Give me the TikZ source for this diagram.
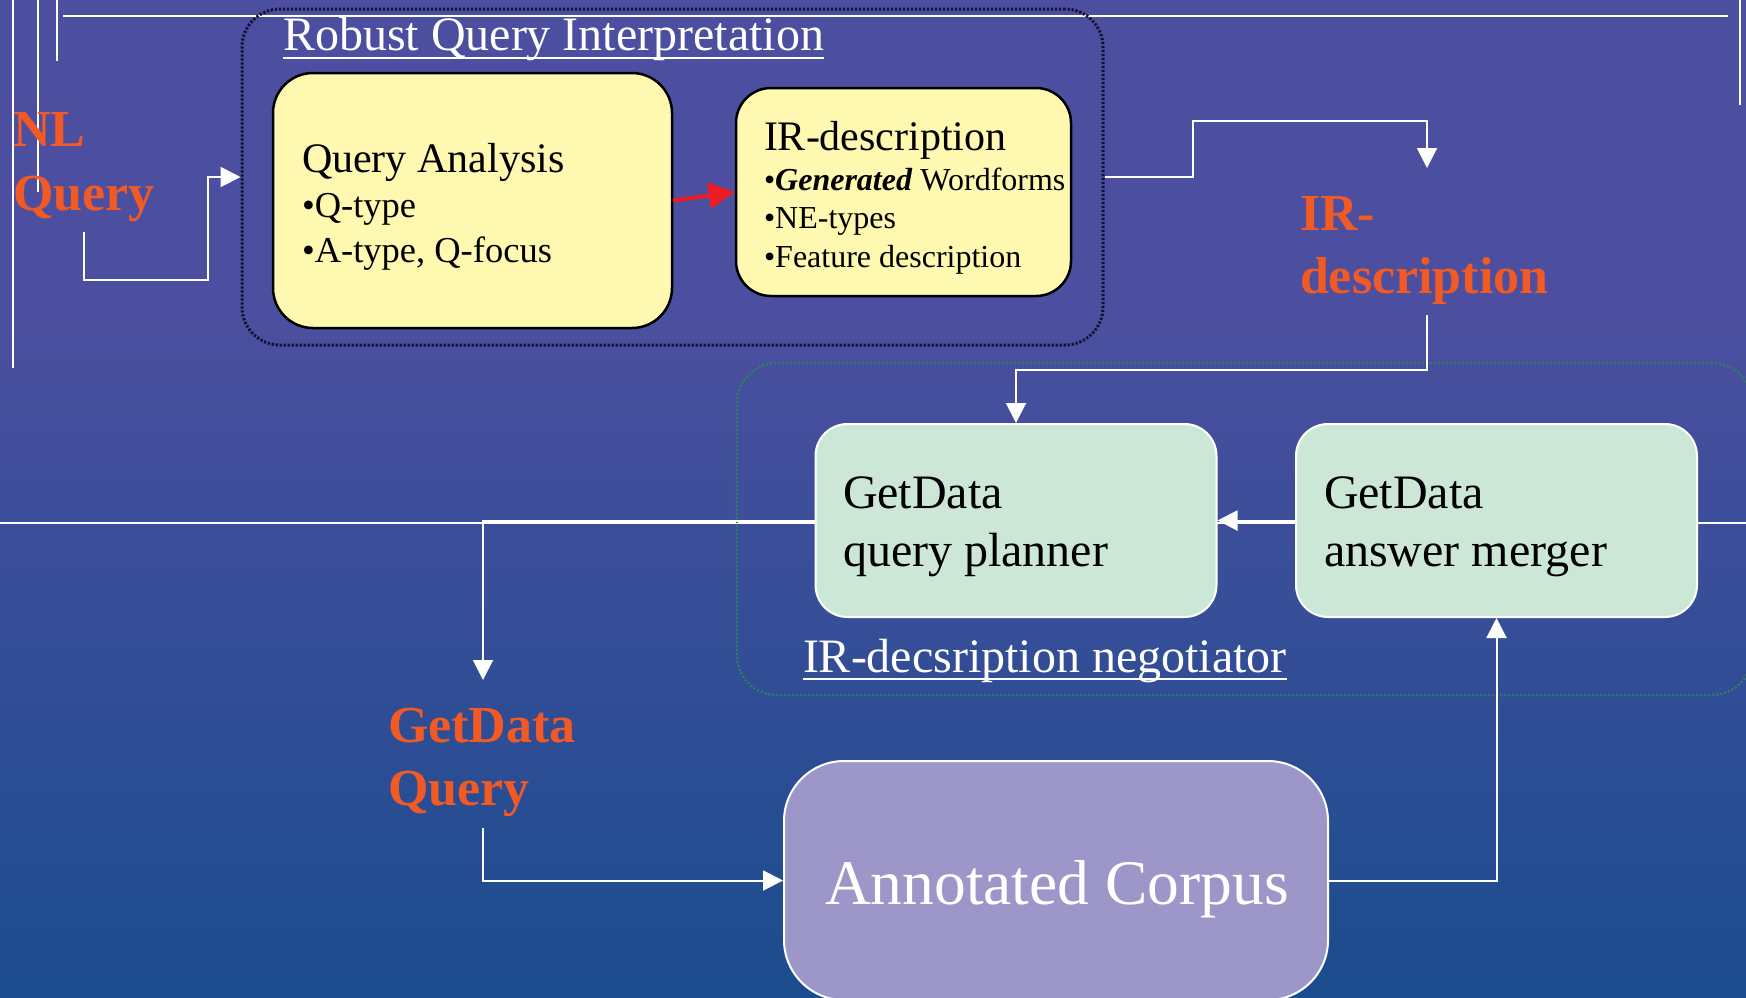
\documentclass[tikz,border=0pt]{standalone}
\usepackage{fontspec}
\setmainfont{Liberation Serif}
\usetikzlibrary{arrows.meta}
\definecolor{bgtop}{HTML}{4C4F9F}
\definecolor{bgbot}{HTML}{1B4C8E}
\definecolor{yel}{HTML}{FFF8B0}
\definecolor{mint}{HTML}{CDE7D6}
\definecolor{lav}{HTML}{9C97C8}
\definecolor{orng}{HTML}{F15A24}
\definecolor{redar}{HTML}{ED1C24}
\definecolor{dotnavy}{HTML}{101030}
\definecolor{dotgreen}{HTML}{2E8060}
\tikzset{
  txt/.style={inner sep=0pt, outer sep=0pt, anchor=base west},
  fs/.style={font=\fontsize{#1}{#1}\selectfont},
  olbl/.style={txt, text=orng, font=\fontsize{52}{60}\selectfont\bfseries},
  deco/.style={draw=white, line width=1.3pt},
  warr/.style={draw=white, line width=2pt, -{Triangle[length=20pt,width=20pt]}},
  rarr/.style={draw=redar, line width=4pt, -{Triangle[length=26pt,width=26pt]}},
  uline/.style={draw=white, line width=2pt},
  rqibox/.style={draw=dotnavy, line width=3pt, dash pattern=on 2.2pt off 1.8pt,
    rounded corners=38pt, inner sep=0pt, minimum width=861pt, minimum height=336pt},
  ybox/.style={fill=yel, draw=black, line width=2.5pt, inner sep=0pt, rounded corners=#1},
  negbox/.style={draw=dotgreen, line width=2.4pt, dash pattern=on 2pt off 2pt,
    rounded corners=40pt, inner sep=0pt, minimum width=1015pt, minimum height=332pt},
  mbox/.style={fill=mint, draw=white, line width=2pt, rounded corners=32pt, inner sep=0pt,
    minimum width=401pt, minimum height=193pt},
  cbox/.style={fill=lav, draw=white, line width=2pt, rounded corners=60pt, inner sep=0pt,
    minimum width=544pt, minimum height=239pt}
}
\begin{document}
\begin{tikzpicture}[x=1pt,y=-1pt]
\useasboundingbox (0,0) rectangle (1746,997);
% background
\fill[bgtop] (0,0) rectangle (1746,300);
\shade[top color=bgtop, bottom color=bgbot] (0,299.5) rectangle (1746,997);
% decorative slide lines
\draw[deco] (13,0) -- (13,368);
\draw[deco] (38,0) -- (38,192);
\draw[deco] (57,0) -- (57,61);
\draw[deco] (63,16) -- (1728,16);
\draw[deco] (1740,0) -- (1740,105);
\draw[deco] (0,523) -- (1746,523);

% group boxes
\node[rqibox] (rqi) at (672.5,177) {};
\node[negbox] (neg) at (1244.5,529) {};

% Robust Query Interpretation
\node[txt, text=white, fs=48] (title) at (283,50) {Robust Query Interpretation};
\draw[uline] ([yshift=-8pt]title.base west) -- ([yshift=-8pt]title.base east);

\node[ybox=40pt, minimum width=399pt, minimum height=255pt] (qa) at (472.5,200.5) {};
\node[txt, fs=42] (qat) at (302,172) {Query Analysis};
\node[txt, fs=36.5] (qa1) at (302,217) {•Q-type};
\node[txt, fs=36.5] (qa2) at (302,262) {•A-type, Q-focus};

\node[ybox=35pt, minimum width=335pt, minimum height=208pt] (ird) at (903.5,192) {};
\node[txt, fs=42] (irdt) at (764,150) {IR-description};
\node[txt, fs=32] (ird1) at (764,190) {•\textbf{\textit{Generated}} Wordforms};
\node[txt, fs=32] (ird2) at (764,228) {•NE-types};
\node[txt, fs=32] (ird3) at (764,267) {•Feature description};

% negotiator
\node[mbox] (qp) at (1016,520.5) {};
\node[txt, fs=48] (qp1) at (843,508) {GetData};
\node[txt, fs=48] (qp2) at (843,566) {query planner};
\node[mbox] (am) at (1496.5,520.5) {};
\node[txt, fs=48] (am1) at (1324,508) {GetData};
\node[txt, fs=48] (am2) at (1324,566) {answer merger};
\node[txt, text=white, fs=48] (negt) at (803,672) {IR-decsription negotiator};
\draw[uline] ([yshift=-7pt]negt.base west) -- ([yshift=-7pt]negt.base east);

% corpus
\node[cbox] (ac) at (1056,880.5) {};
\node[txt, text=white, fs=63.5] (act) at (825,904) {Annotated Corpus};

% orange labels
\node[olbl] (nl1) at (13,146) {NL};
\node[olbl] (nl2) at (13,210) {Query};
\node[olbl] (ir1) at (1300,230) {IR-};
\node[olbl] (ir2) at (1300,293) {description};
\node[olbl] (gq1) at (388,742) {GetData};
\node[olbl] (gq2) at (388,805) {Query};

% connector end points
\coordinate (nlqs) at (84,232);
\coordinate (irtip) at (1427,168);
\coordinate (irs) at (1427,315);
\coordinate (gqtip) at (483,680);
\coordinate (gqs) at (483,828);

% connectors
\draw[warr] (nlqs) -- (84,280) -- (208,280) -- (208,177) -- (rqi.west);
\draw[rarr] (qa.east) -- (ird.west);
\draw[warr] (rqi.east) -- (1193,177) -- (1193,121) -- (1427,121) -- (irtip);
\draw[warr] (irs) -- (1427,370) -- (1016,370) -- (qp.north);
\draw[warr] (am.west) -- (qp.east);
\draw[warr] (qp.west) -- (483,520.5) -- (gqtip);
\draw[warr] (gqs) -- (483,880.5) -- (ac.west);
\draw[warr] (ac.east) -- (1496.5,880.5) -- (am.south);
\end{tikzpicture}
\end{document}
